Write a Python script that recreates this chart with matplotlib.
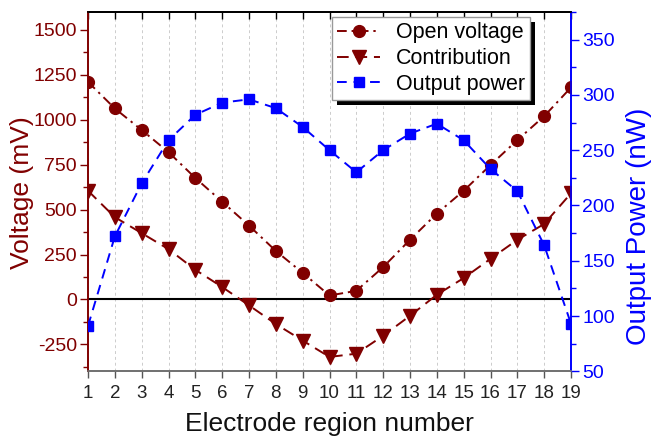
import matplotlib
matplotlib.use("Agg")
import matplotlib.pyplot as plt
from matplotlib.patches import Rectangle
from matplotlib.ticker import MultipleLocator
from matplotlib.transforms import IdentityTransform

plt.rcParams['font.family'] = ['Liberation Sans', 'DejaVu Sans']
plt.rcParams['axes.unicode_minus'] = False

regions = list(range(1, 20))
open_voltage = [1211, 1063, 943, 820, 676, 544, 411, 270, 148, 22,
                48, 180, 332, 478, 605, 748, 887, 1020, 1180]
contribution = [605, 458, 369, 280, 165, 69, -33, -137, -229, -320,
                -302, -202, -91, 26, 119, 226, 332, 420, 591]
output_power = [91, 172, 220, 259, 282, 293, 296, 288, 271, 250,
                230, 250, 265, 274, 259, 233, 213, 164, 93]

dred = '#800000'
blue = '#0000FF'

fig = plt.figure(figsize=(6.51, 4.37), dpi=100)
ax = fig.add_axes([88/651, 65.7/437, (571-88)/651, (371.3-12)/437])
ax2 = ax.twinx()

for x in regions:
    ax.axvline(x, color='#cccccc', lw=0.7, ls=(0, (3, 3)), zorder=0)
ax.axhline(0, color='black', lw=1.5, zorder=1)

l1, = ax.plot(regions, open_voltage, color=dred, lw=1.4, marker='o', ms=8.5,
              dashes=(5, 2.5, 1.2, 2.5), label='Open voltage', zorder=3)
l2, = ax.plot(regions, contribution, color=dred, lw=1.4, marker='v', ms=9.5,
              dashes=(6, 3.5), label='Contribution', zorder=3)
l3, = ax2.plot(regions, output_power, color=blue, lw=1.4, marker='s', ms=7.5,
               dashes=(5, 3.5), label='Output power', zorder=3)

ax.set_xlim(1, 19)
ax.set_ylim(-400, 1600)
ax2.set_ylim(50, 375)

ax.set_xticks(regions)
ax.yaxis.set_major_locator(MultipleLocator(250))
ax.yaxis.set_minor_locator(MultipleLocator(125))
ax2.yaxis.set_major_locator(MultipleLocator(50))
ax2.yaxis.set_minor_locator(MultipleLocator(25))

ax.tick_params(axis='x', which='both', direction='out', length=5, width=1,
               labelsize=13.5, pad=5, top=False, color='#555555',
               labelcolor='#222222')
ax.tick_params(axis='y', which='major', direction='out', length=6, width=1,
               labelsize=14, colors=dred, pad=2)
ax.tick_params(axis='y', which='minor', direction='out', length=3.5, width=1,
               colors=dred)
ax2.tick_params(axis='y', which='major', direction='out', length=6, width=1,
                labelsize=14, colors=blue, pad=2)
ax2.tick_params(axis='y', which='minor', direction='out', length=3.5, width=1,
                colors=blue)

top = ax.secondary_xaxis('top')
top.set_xticks(regions)
top.tick_params(direction='in', length=5, width=1, labeltop=False, color='black')
top.spines['top'].set_color('black')
top.spines['top'].set_linewidth(1.2)

for a in (ax, ax2):
    a.spines['left'].set_color(dred)
    a.spines['right'].set_color(blue)
    a.spines['top'].set_color('black')
    a.spines['bottom'].set_color('#707070')
    for s in a.spines.values():
        s.set_linewidth(1.2)

ax.set_xlabel('Electrode region number', fontsize=19, color='#111111', labelpad=7)
ax.set_ylabel('Voltage (mV)', fontsize=19, color=dred)
ax.yaxis.set_label_coords(-0.112, 0.496)
ax2.set_ylabel('Output Power (nW)', fontsize=20, color=blue)
ax2.yaxis.set_label_coords(1.113, 0.404)

leg = ax2.legend(handles=[l1, l2, l3], loc='upper left',
                 bbox_to_anchor=((332-88)/483, 1-(17-12)/359.3),
                 fontsize=15.5, frameon=True, fancybox=False, framealpha=1,
                 edgecolor='#999999', handlelength=2.0, handletextpad=0.7,
                 borderpad=0.25, labelspacing=0.22, borderaxespad=0)
leg.get_frame().set_linewidth(1.0)
leg.set_zorder(10)

fig.canvas.draw()
bb = leg.get_window_extent()
shadow = Rectangle((bb.x0 + 5, bb.y0 - 5), bb.width, bb.height,
                   transform=IdentityTransform(), facecolor='black',
                   edgecolor='none', zorder=9)
ax2.add_artist(shadow)

fig.savefig('out.png', dpi=100)
